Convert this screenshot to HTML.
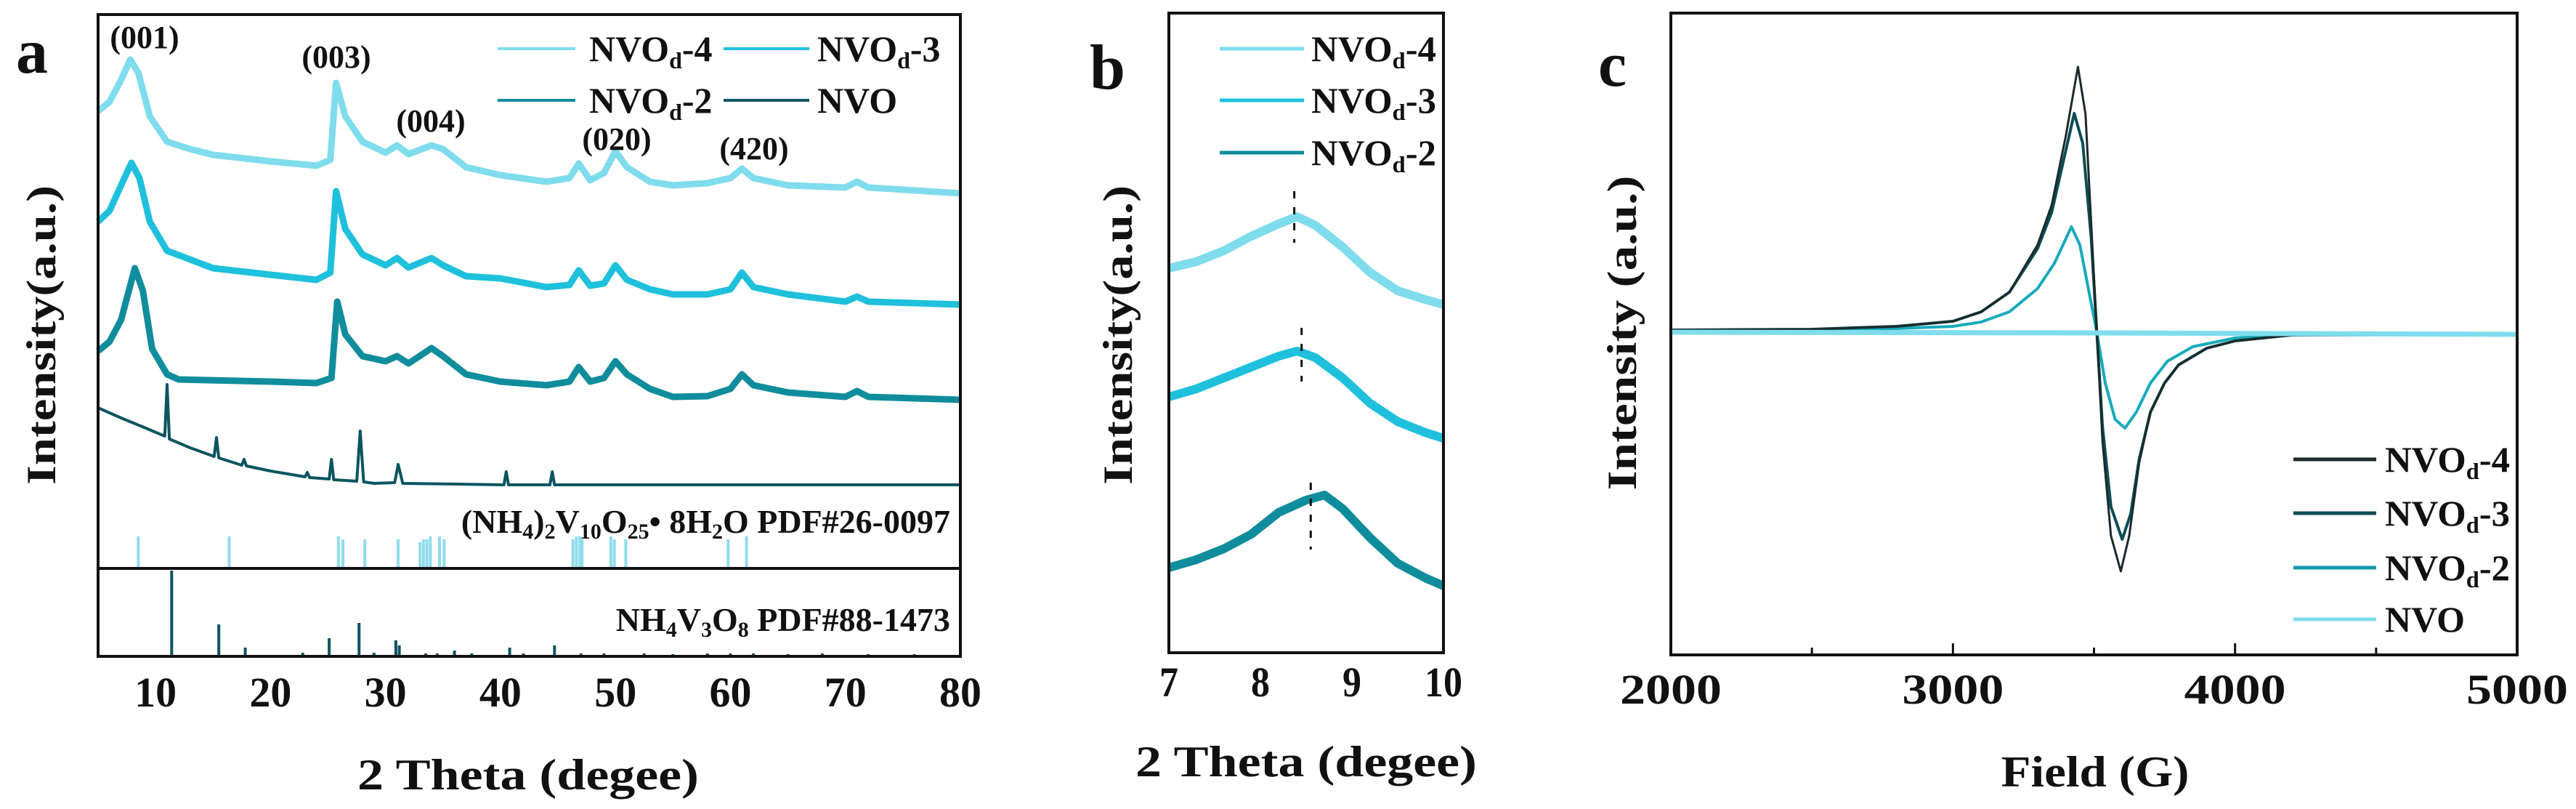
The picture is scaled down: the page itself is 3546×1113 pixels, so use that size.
<!DOCTYPE html>
<html><head><meta charset="utf-8"><style>
html,body{margin:0;padding:0;background:#fff;}
svg{display:block;}
text{font-family:"Liberation Serif",serif;font-weight:bold;fill:#111;}
</style></head><body>
<svg id="fig" width="3546" height="1113" viewBox="0 0 3546 1113" xmlns="http://www.w3.org/2000/svg">
<g id="pa"></g>
<g id="pb"></g>
<g id="pc"></g>
</svg>
<script>
// ---------- Panel a data ----------
const aTicks = [10,20,30,40,50,60,70,80];
const aNVOd4 = [[5,629],[6,642],[7,672],[7.8,700],[8.5,682],[9.5,622],[11,587],[13,577],[15,569],[20,560],[24,554],[25.2,562],[25.7,668],[26.5,622],[28,587],[30,572],[31,582],[32,570],[34,582],[35,577],[37,552],[40,541],[44,532],[46,537],[46.8,557],[47.8,534],[49,544],[50,574],[51,552],[53,532],[55,527],[58,530],[60,537],[61,550],[62,537],[65,527],[70,524],[71,532],[72,524],[80,516]];
const aNVOd3 = [[5,477],[6,492],[7,527],[7.9,558],[8.6,537],[9.5,477],[11,437],[15,413],[20,404],[24,397],[25.2,407],[25.7,519],[26.5,467],[28,432],[30,417],[31,427],[32,414],[34,427],[35,417],[37,402],[40,399],[44,387],[46,390],[46.8,410],[47.8,389],[49,392],[50,417],[51,397],[53,384],[55,377],[58,377],[60,384],[61,407],[62,387],[65,377],[70,367],[71,374],[72,367],[80,363]];
const aNVOd2 = [[5,299],[6,312],[7,342],[8.2,413],[8.9,382],[9.7,302],[11,267],[12,260],[20,257],[24,255],[25.3,262],[25.8,367],[26.5,322],[28,292],[30,285],[31,292],[32,282],[34,303],[35,292],[37,267],[40,257],[44,252],[46,257],[46.8,277],[47.8,257],[49,262],[50,285],[51,267],[53,247],[55,236],[58,237],[60,247],[61,267],[62,252],[65,242],[70,236],[71,244],[72,236],[80,232]];
const aNVO = [[5,221],[7,207],[9,194],[10.8,182],[11,253],[11.2,178],[13,166],[15.1,154],[15.3,180],[15.5,152],[17.5,142],[17.7,150],[17.9,141],[20,134],[23,126],[23.2,132],[23.4,125],[25.1,123],[25.3,150],[25.5,122],[27.5,120],[27.8,189],[28.1,119],[29,117],[30.8,118],[31.1,143],[31.5,117],[40.3,115],[40.5,133],[40.7,115],[44.3,115],[44.5,133],[44.7,115],[80,115]];
const refA = [8.5,16.4,25.9,26.3,28.2,31.1,33.0,33.3,33.6,33.9,34.7,35.1,46.3,46.6,46.9,47.1,49.6,49.9,50.9,59.8,61.4];
const refAh = [44,44,44,40,40,40,36,40,40,44,44,40,40,44,44,40,44,40,40,40,44];
const refB = [11.4,15.5,17.8,22.8,25.1,27.7,29.0,30.9,31.2,33.5,34.5,36.0,37.5,40.8,42.0,44.7,47.0,49.0,52.5,55.0,58.0,60.0,62.0,65.0,68.0,72.0,76.0];
const refBh = [118,44,12,5,25,46,5,22,15,4,4,8,4,12,4,15,4,4,4,3,4,4,4,3,4,3,3];

// ---------- Panel b data ----------
const bTicks = [7,8,9,10];
const bNVOd4 = [[7,529],[7.3,538],[7.6,553],[7.9,573],[8.2,590],[8.4,600],[8.6,588],[8.9,558],[9.2,523],[9.5,498],[9.8,486],[10,479]];
const bNVOd3 = [[7,352],[7.3,363],[7.6,378],[7.9,393],[8.2,408],[8.4,415],[8.6,406],[8.9,378],[9.2,343],[9.5,318],[9.8,303],[10,295]];
const bNVOd2 = [[7,117],[7.3,128],[7.6,143],[7.9,163],[8.2,193],[8.5,210],[8.7,217],[8.9,198],[9.2,158],[9.5,123],[9.8,103],[10,92]];
const bMarks = [[8.37,564,635],[8.45,373,447],[8.55,142,234]];

// ---------- Panel c data ----------
const cTicks = [2000,3000,4000,5000];
const cMinor = [2500,3500,4500];
const cNVOd4 = [[2000,3],[2500,4],[2800,8],[3000,15],[3100,28],[3200,55],[3300,120],[3350,175],[3400,270],[3443,365],[3470,300],[3490,150],[3510,0],[3530,-150],[3560,-280],[3595,-329],[3625,-280],[3660,-180],[3700,-110],[3750,-70],[3800,-45],[3900,-22],[4000,-12],[4200,-4],[5000,-3]];
const cNVOd3 = [[2000,3],[2500,4],[2800,8],[3000,15],[3100,28],[3200,55],[3300,115],[3350,165],[3400,250],[3430,301],[3460,260],[3490,130],[3510,0],[3530,-130],[3560,-240],[3600,-285],[3630,-250],[3660,-175],[3700,-110],[3750,-70],[3800,-45],[3900,-22],[4000,-12],[4200,-4],[5000,-3]];
const cNVOd2 = [[2000,2],[2500,3],[2800,5],[3000,8],[3100,14],[3200,28],[3300,60],[3360,95],[3420,145],[3450,120],[3480,60],[3510,0],[3540,-70],[3575,-120],[3610,-132],[3650,-110],[3700,-70],[3760,-40],[3850,-20],[4000,-8],[4200,-3],[5000,-2]];
const cNVO = [[2000,0],[3500,-1],[5000,-3]];

const NS = "http://www.w3.org/2000/svg";
function mk(parent, tag, attrs, txt){
  const e = document.createElementNS(NS, tag);
  for (const k in attrs) e.setAttribute(k, attrs[k]);
  if (txt !== undefined) e.textContent = txt;
  parent.appendChild(e);
  return e;
}
const C4='#7fdcec', C3='#1ec0dc', C2='#108d9c', C0='#0c5560';

// ===== Panel a =====
const pa = document.getElementById('pa');
const axA = v => 135 + (v - 5) * (1322 - 135) / 75;
const ayA = v => 782 - v;
function pathOf(arr, fx, fy){ return arr.map((p,i)=>(i?'L':'M')+fx(p[0]).toFixed(1)+','+fy(p[1]).toFixed(1)).join(''); }
[[aNVO,C0,4,'nvo'],[aNVOd2,C2,9,'nvod-2'],[aNVOd3,C3,9,'nvod-3'],[aNVOd4,C4,9,'nvod-4']].forEach(s=>{
  const e = mk(pa,'path',{d:pathOf(s[0],axA,ayA),fill:'none',stroke:s[1],'stroke-width':s[2],'stroke-linejoin':'round'});
  
  
});
refA.forEach((v,i)=>{
  const e = mk(pa,'line',{x1:axA(v),x2:axA(v),y1:782,y2:782-refAh[i],stroke:'#8fdceb','stroke-width':4});
  
  
});
refB.forEach((v,i)=>{
  const e = mk(pa,'line',{x1:axA(v),x2:axA(v),y1:903,y2:903-refBh[i],stroke:C0,'stroke-width':4});
  
  
});
aTicks.forEach(t=>{
  const e = mk(pa,'text',{x:axA(t),y:972,'font-size':58,'text-anchor':'middle'},String(t));
  
  
});
</script>
<svg style="position:absolute;left:0;top:0" width="3546" height="1113" viewBox="0 0 3546 1113" xmlns="http://www.w3.org/2000/svg">
<!-- panel a frame and labels -->
<rect x="135" y="20" width="1187" height="883" fill="none" stroke="#111" stroke-width="4"/>
<line x1="135" y1="782" x2="1322" y2="782" stroke="#111" stroke-width="4"/>
<text x="22" y="100" font-size="88">a</text>
<text transform="translate(76,461) rotate(-90)" font-size="57" text-anchor="middle" textLength="412" lengthAdjust="spacingAndGlyphs">Intensity(a.u.)</text>
<text x="727" y="1086" font-size="60" text-anchor="middle" textLength="470" lengthAdjust="spacingAndGlyphs">2 Theta  (degee)</text>
<text x="199" y="66" font-size="44" text-anchor="middle">(001)</text>
<text x="463" y="93" font-size="44" text-anchor="middle">(003)</text>
<text x="593" y="181" font-size="44" text-anchor="middle">(004)</text>
<text x="849" y="206" font-size="44" text-anchor="middle">(020)</text>
<text x="1038" y="219" font-size="44" text-anchor="middle">(420)</text>
<g>
<line x1="685" y1="67" x2="792" y2="67" stroke="#7fdcec" stroke-width="4"/>
<text x="811" y="84" font-size="50">NVO<tspan font-size="32" dy="10">d</tspan><tspan dy="-10">-4</tspan></text>
<line x1="996" y1="67" x2="1114" y2="67" stroke="#1ec0dc" stroke-width="4"/>
<text x="1125" y="84" font-size="50">NVO<tspan font-size="32" dy="10">d</tspan><tspan dy="-10">-3</tspan></text>
<line x1="685" y1="138" x2="792" y2="138" stroke="#108d9c" stroke-width="4"/>
<text x="811" y="155" font-size="50">NVO<tspan font-size="32" dy="10">d</tspan><tspan dy="-10">-2</tspan></text>
<line x1="996" y1="138" x2="1114" y2="138" stroke="#0c5560" stroke-width="4"/>
<text x="1125" y="155" font-size="50">NVO</text>
</g>
<text x="1308" y="733" font-size="46" text-anchor="end">(NH<tspan font-size="30" dy="8">4</tspan><tspan dy="-8">)</tspan><tspan font-size="30" dy="8">2</tspan><tspan dy="-8">V</tspan><tspan font-size="30" dy="8">10</tspan><tspan dy="-8">O</tspan><tspan font-size="30" dy="8">25</tspan><tspan dy="-8">• 8H</tspan><tspan font-size="30" dy="8">2</tspan><tspan dy="-8">O PDF#26-0097</tspan></text>
<text x="1308" y="868" font-size="46" text-anchor="end">NH<tspan font-size="30" dy="8">4</tspan><tspan dy="-8">V</tspan><tspan font-size="30" dy="8">3</tspan><tspan dy="-8">O</tspan><tspan font-size="30" dy="8">8</tspan><tspan dy="-8"> PDF#88-1473</tspan></text>

<!-- panel b -->
<rect x="1609" y="18" width="378" height="880" fill="none" stroke="#111" stroke-width="4"/>
<text x="1500" y="122" font-size="88">b</text>
<text transform="translate(1558,461) rotate(-90)" font-size="57" text-anchor="middle" textLength="412" lengthAdjust="spacingAndGlyphs">Intensity(a.u.)</text>
<text x="1798" y="1068" font-size="60" text-anchor="middle" textLength="470" lengthAdjust="spacingAndGlyphs">2 Theta  (degee)</text>
<g>
<line x1="1679" y1="67" x2="1795" y2="67" stroke="#7fdcec" stroke-width="5"/>
<text x="1805" y="84" font-size="50" textLength="172" lengthAdjust="spacingAndGlyphs">NVO<tspan font-size="32" dy="10">d</tspan><tspan dy="-10">-4</tspan></text>
<line x1="1679" y1="138" x2="1795" y2="138" stroke="#1ec0dc" stroke-width="5"/>
<text x="1805" y="155" font-size="50" textLength="172" lengthAdjust="spacingAndGlyphs">NVO<tspan font-size="32" dy="10">d</tspan><tspan dy="-10">-3</tspan></text>
<line x1="1679" y1="210" x2="1795" y2="210" stroke="#108d9c" stroke-width="5"/>
<text x="1805" y="227" font-size="50" textLength="172" lengthAdjust="spacingAndGlyphs">NVO<tspan font-size="32" dy="10">d</tspan><tspan dy="-10">-2</tspan></text>
</g>

<!-- panel c -->
<rect x="2300" y="18" width="1165" height="883" fill="none" stroke="#111" stroke-width="4"/>
<text x="2200" y="118" font-size="88">c</text>
<text transform="translate(2252,458) rotate(-90)" font-size="57" text-anchor="middle" textLength="433" lengthAdjust="spacingAndGlyphs">Intensity (a.u.)</text>
<text x="2884" y="1082" font-size="60" text-anchor="middle" textLength="259" lengthAdjust="spacingAndGlyphs">Field (G)</text>
<g>
<line x1="3157" y1="632" x2="3271" y2="632" stroke="#1a2a2c" stroke-width="5"/>
<text x="3283" y="649" font-size="50" textLength="172" lengthAdjust="spacingAndGlyphs">NVO<tspan font-size="32" dy="10">d</tspan><tspan dy="-10">-4</tspan></text>
<line x1="3157" y1="706" x2="3271" y2="706" stroke="#0d4d55" stroke-width="5"/>
<text x="3283" y="723" font-size="50" textLength="172" lengthAdjust="spacingAndGlyphs">NVO<tspan font-size="32" dy="10">d</tspan><tspan dy="-10">-3</tspan></text>
<line x1="3157" y1="781" x2="3271" y2="781" stroke="#129aab" stroke-width="5"/>
<text x="3283" y="798" font-size="50" textLength="172" lengthAdjust="spacingAndGlyphs">NVO<tspan font-size="32" dy="10">d</tspan><tspan dy="-10">-2</tspan></text>
<line x1="3157" y1="852" x2="3271" y2="852" stroke="#7fdcec" stroke-width="5"/>
<text x="3283" y="869" font-size="50" textLength="110" lengthAdjust="spacingAndGlyphs">NVO</text>
</g>
</svg>
<script>
// ===== Panel b =====
const pb = document.getElementById('pb');
const axB = v => 1609 + (v - 7) * (1987 - 1609) / 3;
const ayB = v => 898 - v;
[[bNVOd2,C2,'nvod-2'],[bNVOd3,C3,'nvod-3'],[bNVOd4,C4,'nvod-4']].forEach(s=>{
  const e = mk(pb,'path',{d:pathOf(s[0],axB,ayB),fill:'none',stroke:s[1],'stroke-width':12,'stroke-linejoin':'round'});
  
  
});
bMarks.forEach(m=>{
  const e = mk(pb,'line',{x1:axB(m[0]),x2:axB(m[0]),y1:ayB(m[2]),y2:ayB(m[1]),stroke:'#111','stroke-width':3,'stroke-dasharray':'10,12'});
  
  
});
bTicks.forEach(t=>{
  const e = mk(pb,'text',{x:axB(t),y:958,'font-size':58,'text-anchor':'middle',textLength:String(t).length*26,lengthAdjust:'spacingAndGlyphs'},String(t));
  
  
});

// ===== Panel c =====
const pc = document.getElementById('pc');
const axC = v => 2300 + (v - 2000) * (3465 - 2300) / 3000;
const ayC = v => 457 - v;
[[cNVOd2,'#17aabb',4,'nvod-2'],[cNVOd3,'#0d4d55',4,'nvod-3'],[cNVOd4,'#1a2a2c',3,'nvod-4'],[cNVO,'#7fdcec',7,'nvo']].forEach(s=>{
  const e = mk(pc,'path',{d:pathOf(s[0],axC,ayC),fill:'none',stroke:s[1],'stroke-width':s[2],'stroke-linejoin':'round'});
  
  
});
cTicks.forEach(t=>{
  const e = mk(pc,'text',{x:axC(t),y:968,'font-size':58,'text-anchor':'middle',textLength:140,lengthAdjust:'spacingAndGlyphs'},String(t));
  
  
  const k = mk(pc,'line',{x1:axC(t),x2:axC(t),y1:901,y2:885,stroke:'#111','stroke-width':3});
  
  
});
cMinor.forEach(t=>{
  const k = mk(pc,'line',{x1:axC(t),x2:axC(t),y1:901,y2:891,stroke:'#111','stroke-width':3});
  
  
});
</script>
</body></html>
